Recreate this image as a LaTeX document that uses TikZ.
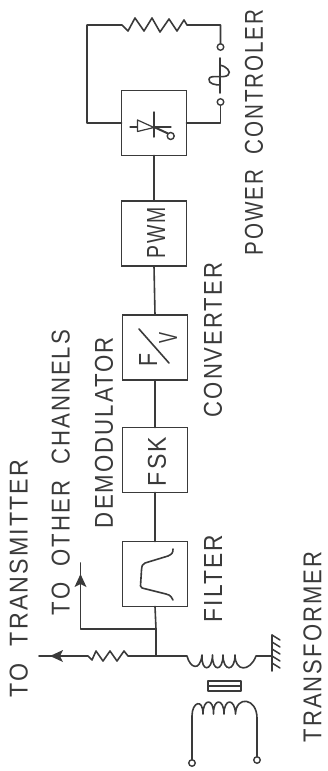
\documentclass[tikz,border=0pt]{standalone}
\usepackage{fontspec}
\setmainfont[LetterSpace=9]{Liberation Sans}
\usepackage{graphicx}
\definecolor{ink}{HTML}{3A3A3A}
\newcommand{\lab}[6]{\node[lbl,anchor=south west] (#1) at (#2,#3) {\resizebox{#4pt}{#5pt}{#6}};}
\tikzset{
  wire/.style={draw=ink,line width=1.6pt,line cap=round,line join=round},
  thin wire/.style={draw=ink,line width=1.2pt,line cap=round,line join=round},
  blockbox/.style={draw=ink,line width=1.7pt,minimum width=65pt,minimum height=65pt,inner sep=0pt,outer sep=0pt},
  term/.style={circle,draw=ink,line width=1.4pt,fill=white,minimum size=6.5pt,inner sep=0pt,outer sep=0pt},
  lbl/.style={rotate=90,inner sep=0pt,outer sep=0pt,text=ink},
  head/.style={fill=ink,draw=none}
}
\begin{document}
\begin{tikzpicture}[x=1pt,y=-1pt]
\useasboundingbox (0,0) rectangle (327,771);
% blocks
\node[blockbox] (filter) at (155,574) {};
\node[blockbox] (fsk) at (155,460) {};
\node[blockbox] (fv) at (155,347.5) {};
\node[blockbox] (pwm) at (154,233.5) {};
\node[blockbox] (ctrl) at (154,123) {};
% connectors between blocks
\draw[wire] (filter.north) -- (fsk.south);
\draw[wire] (fsk.north) -- (fv.south);
\draw[wire] (fv.north) -- (pwm.south);
\draw[wire] (pwm.north) -- (ctrl.south);
% junctions and free ends
\coordinate (j2) at (156,629);
\coordinate (j1) at (156,656);
\coordinate (txend) at (39,656);
\coordinate (othend) at (80.5,563);
\draw[wire] (filter.south) -- (j2) -- (j1);
\draw[wire] (j2) -| (othend);
\fill[head] (80.5,574) -- (86.5,587) -- (80.5,584) -- (74.5,587) -- cycle;
% resistor to transmitter
\draw[wire] (j1) -- (128,656) -- (124,651) -- (117,661) -- (110,651) -- (103,661) -- (96,651) -- (92,660) -- (88,656) -- (txend);
\fill[head] (50,656) -- (63,650) -- (60,656) -- (63,662) -- cycle;
% primary-side inductor
\coordinate (lstart) at (187,656);
\coordinate (gnd) at (272,656);
\draw[wire] (j1) -- (lstart)
  .. controls (190,668) and (200,672) .. (202,655)
  .. controls (201,672) and (212,672) .. (212.5,655)
  .. controls (212,672) and (223,672) .. (223,655)
  .. controls (223,672) and (235,672) .. (235,655)
  .. controls (235,672) and (250,672) .. (256,656) -- (gnd);
\draw[wire] (272,635) -- (272,671);
\foreach \yy in {635,642,649,656,663}{\draw[thin wire,line width=1.5pt] (272,\yy) -- (280,\yy+5);}
% core
\draw[wire,line width=2pt] (208,680.5) rectangle (240.5,691);
\draw[thin wire] (209,686) -- (240,686);
% secondary winding
\node[term] (t1) at (192,763) {};
\node[term] (t2) at (257,760) {};
\draw[wire] (t1) -- (192,716)
  .. controls (192,702) and (203,698) .. (203,714)
  .. controls (203,698) and (214,698) .. (213.5,714)
  .. controls (213,698) and (224,698) .. (224,714)
  .. controls (224,698) and (235,698) .. (235.5,714)
  .. controls (236,695) and (257,698) .. (257,718) -- (t2);
% feedback loop
\node[term] (t3) at (220.5,47) {};
\node[term] (t4) at (220.5,102) {};
\draw[wire] (ctrl.west) -- (87,123) -- (87,25) -- (122,25) -- (128,31) -- (135,18) -- (144,31) -- (152,18) -- (160,32) -- (169,19) -- (177,31) -- (184,20) -- (187,25) -- (220.5,25) -- (t3);
\draw[wire] (ctrl.east) -- (220.5,123) -- (t4);
% source symbol
\draw[wire] (220,58) -- (220,93);
\draw[wire] (220,65) .. controls (226,66) and (232,72) .. (228,75) .. controls (224,79) and (210,74) .. (209,79) .. controls (208,84) and (216,85) .. (220,85);
% thyristor symbol
\draw[thin wire] (130,127) -- (137.5,127);
\draw[thin wire] (137.5,120) -- (137.5,131.5) -- (154,127.5) -- cycle;
\draw[thin wire] (154,127) -- (171,127);
\draw[thin wire,line width=1.5pt] (154,112) -- (154,137);
\draw[wire,line width=2pt] (154,127) -- (168,133.5);
\node[term,minimum size=7pt] (gate) at (170.7,136) {};
% filter curve
\draw[wire] (173,549) .. controls (173,553) and (172,554) .. (168,556) -- (145,563) .. controls (142,564) and (142,566) .. (141.5,570) -- (140.5,586) .. controls (141,588) and (142,588) .. (146,589) -- (166,594) .. controls (171,595) and (172,598) .. (173,600);
% slash in F/V
\draw[wire] (139,329) -- (169,363);
% block texts
\lab{tf}{166}{486}{49}{18}{FSK}
\lab{tF}{157}{366}{13}{18}{F}
\lab{tV}{177}{343}{11}{18}{V}
\lab{tP}{165}{258}{51}{18}{PWM}
% labels
\lab{l1}{28}{697}{237}{18}{TO\ \ TRANSMITTER}
\lab{l2}{70}{615}{285}{18}{TO\ \ OTHER\ \ CHANNELS}
\lab{l3}{113}{528}{191}{18}{DEMODULATOR}
\lab{l4}{222}{622}{87}{18}{FILTER}
\lab{l5}{321.5}{742}{190}{18}{TRANSFORMER}
\lab{l6}{222}{417}{154}{18}{CONVERTER}
\lab{l7}{263}{255}{245}{18}{POWER\ \ CONTROLER}
\end{tikzpicture}
\end{document}
